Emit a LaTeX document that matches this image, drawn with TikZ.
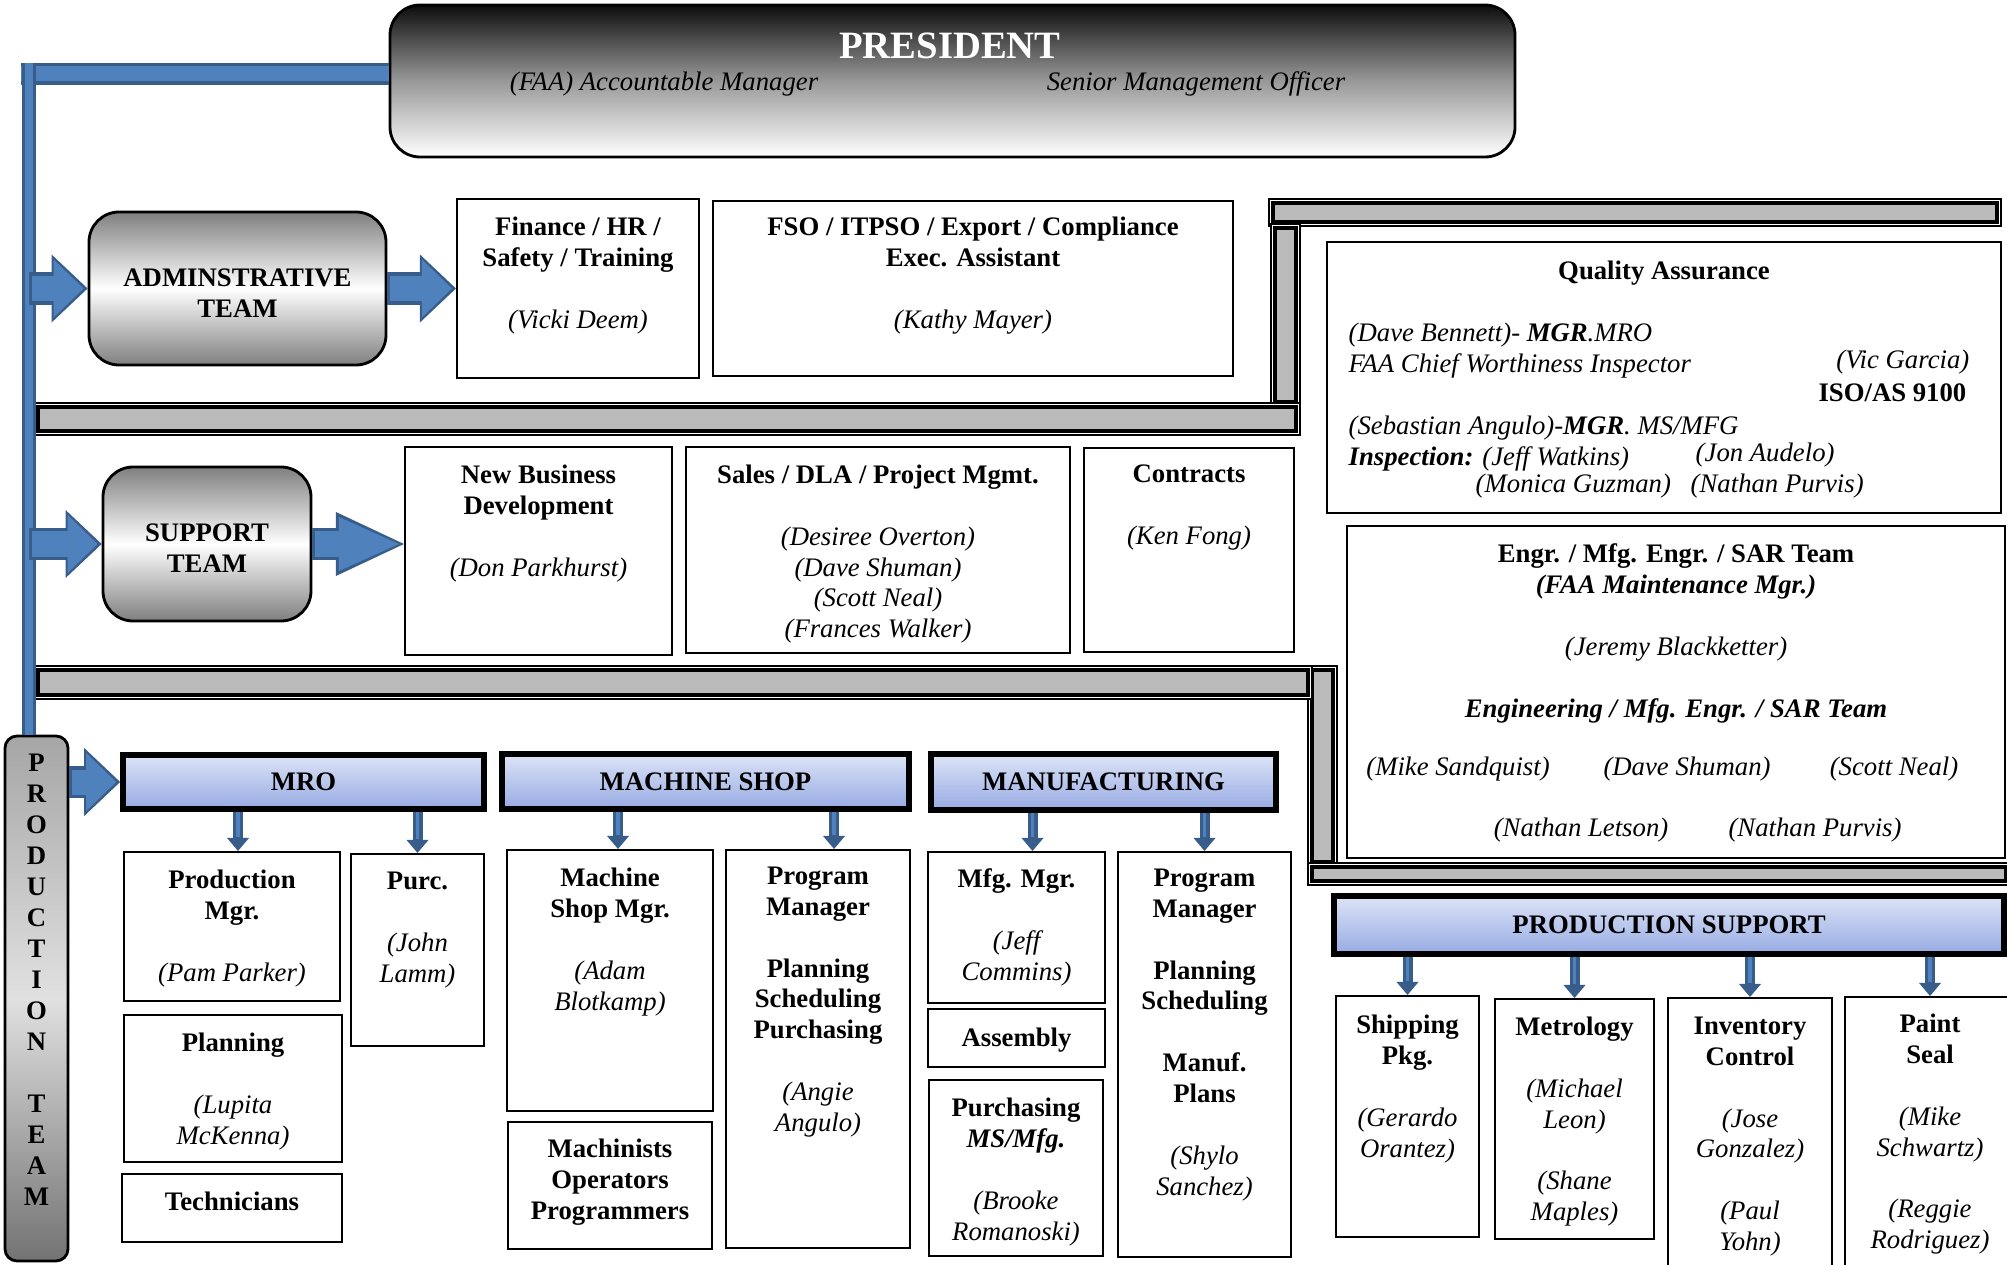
\documentclass[tikz,border=0pt]{standalone}
\usepackage{fontspec}
\setmainfont{Liberation Serif}
\usetikzlibrary{shapes,arrows.meta,positioning,fit}

\definecolor{arrowblue}{HTML}{4F81BD}
\definecolor{arrowedge}{HTML}{385D8A}
\definecolor{hdtop}{HTML}{DDE4F7}
\definecolor{hdbot}{HTML}{97ABE3}

\tikzstyle{box}    = [rectangle, draw, line width=0.6pt, inner sep=0pt]
\tikzstyle{hdr}    = [rectangle, draw, line width=1.6pt, inner sep=0pt, top color=hdtop, bottom color=hdbot]
\tikzstyle{team}   = [rectangle, draw, rounded corners=0.3cm, line width=0.8pt, inner sep=0pt, top color=gray, bottom color=gray, middle color=white]
\tikzstyle{presbox}= [rectangle, draw, rounded corners=0.3cm, line width=0.8pt, inner sep=0pt, top color=black!95, bottom color=white, middle color=black!40]
\tikzstyle{txt}    = [align=center, inner sep=0pt, font=\bfseries]
\tikzstyle{person} = [inner sep=0pt, font=\itshape]
\tikzstyle{barout} = [draw, line width=0.5pt, fill=white]
\tikzstyle{barin}  = [draw, line width=1.2pt, fill=black!27]
\tikzstyle{hbar}   = [draw=arrowedge, line width=0.22cm, postaction={draw=arrowblue, line width=0.15cm}]
\tikzstyle{vbar}   = [draw=arrowedge, line width=0.14cm, postaction={draw=arrowblue, line width=0.08cm}]
\tikzstyle{fatarrow}  = [draw=arrowedge, line width=0.32cm, -{Triangle[width=0.68cm,length=0.36cm,line width=0pt]},
                         postaction={draw=arrowblue, line width=0.25cm, -{Triangle[width=0.58cm,length=0.3cm,line width=0pt]}, shorten >=0.04cm, shorten <=0.03cm}]
\tikzstyle{longarrow} = [draw=arrowedge, line width=0.32cm, -{Triangle[width=0.64cm,length=0.68cm,line width=0pt]},
                         postaction={draw=arrowblue, line width=0.25cm, -{Triangle[width=0.54cm,length=0.6cm,line width=0pt]}, shorten >=0.05cm, shorten <=0.03cm}]
\tikzstyle{downarrow} = [draw=arrowedge, line width=0.1cm, -{Triangle[width=0.22cm,length=0.13cm,line width=0pt]},
                         postaction={draw=arrowblue, line width=0.035cm, -, shorten >=0.14cm}]

\newcommand{\emptyln}{\\[8.8pt]}
\newcommand{\nm}[1]{{\normalfont\itshape #1}}
\newcommand{\sepbar}[4]{%
  \draw[barout] (#1,#2) rectangle (#3,#4);
  \draw[barin] (#1+4,#2+4) rectangle (#3-4,#4-4);}

\begin{document}
\begin{tikzpicture}[x=0.01cm, y=-0.01cm]
\fontsize{7.6}{8.8}\selectfont
\useasboundingbox (0,0) rectangle (2007,1264);

% separators
\sepbar{1269}{199}{2001}{226}
\sepbar{1271}{224}{1300}{406}
\sepbar{34}{403}{1300}{435}
\sepbar{1308}{666}{1337}{866}
\sepbar{34}{666}{1312}{699}
\sepbar{1308}{863}{2010}{885}

% president
\node[presbox, fit={(390,5) (1515,157)}] (pres) {};
\node[txt, text=white, font=\bfseries\fontsize{11}{13}\selectfont] (pres-t) at (950,46) {PRESIDENT};
\node[person] (pres-faa) at (664,84) {(FAA) Accountable Manager};
\node[person] (pres-smo) at (1196,84) {Senior Management Officer};

% production team
\node[team, rounded corners=0.12cm, top color=black!35, bottom color=black!55, middle color=black!12, fit={(5,736) (68,1261)}] (prodteam) {};
\node[txt, below=0.19cm of prodteam.north] (prodteam-t) {P\\R\\O\\D\\U\\C\\T\\I\\O\\N\emptyln T\\E\\A\\M};

\coordinate (elbow) at (29,74);
\draw[hbar] ([xshift=-0.08cm]elbow) -- (elbow -| pres.west);
\draw[vbar] ([yshift=0.11cm]elbow) -- (elbow |- prodteam.north);

% administrative row
\node[team, fit={(89,212) (386,365)}] (adm) {};
\node[txt, below=0.05cm of adm.center, anchor=center] (adm-t) {ADMINSTRATIVE\\TEAM};
\node[box, fit={(457,199) (699,378)}] (fin) {};
\node[txt, below=0.18cm of fin.north] (fin-t) {Finance / HR /\\Safety / Training\emptyln\nm{(Vicki Deem)}};
\node[box, fit={(713,201) (1233,376)}] (fso) {};
\node[txt, below=0.16cm of fso.north] (fso-t) {FSO / ITPSO / Export / Compliance\\Exec. Assistant\emptyln\nm{(Kathy Mayer)}};

% support row
\node[team, fit={(103,467) (311,621)}] (sup) {};
\node[txt, below=0.04cm of sup.center, anchor=center] (sup-t) {SUPPORT\\TEAM};
\node[box, fit={(405,447) (672,655)}] (nbd) {};
\node[txt, below=0.18cm of nbd.north] (nbd-t) {New Business\\Development\emptyln\nm{(Don Parkhurst)}};
\node[box, fit={(686,447) (1070,653)}] (sales) {};
\node[txt, below=0.18cm of sales.north] (sales-t) {Sales / DLA / Project Mgmt.\emptyln\nm{(Desiree Overton)}\\\nm{(Dave Shuman)}\\\nm{(Scott Neal)}\\\nm{(Frances Walker)}};
\node[box, fit={(1084,448) (1294,652)}] (contr) {};
\node[txt, below=0.17cm of contr.north] (contr-t) {Contracts\emptyln\nm{(Ken Fong)}};

% quality assurance
\node[box, fit={(1327,242) (2001,513)}] (qa) {};
\node[txt, below=0.19cm of qa.north] (qa-t) {Quality Assurance};
\node[person, align=left, anchor=north west] (qa-mgr) at (1348,322) {(Dave Bennett)- \textbf{MGR}.MRO\\FAA Chief Worthiness Inspector\emptyln(Sebastian Angulo)-\textbf{MGR}. MS/MFG\\\textbf{Inspection:} (Jeff Watkins)};
\node[person, anchor=east] (qa-vic) at (1970,362) {(Vic Garcia)};
\node[txt, anchor=east] (qa-iso) at (1967,393) {ISO/AS 9100};
\node[person, anchor=west] (qa-jon) at (1695,455) {(Jon Audelo)};
\node[person, anchor=west] (qa-mon) at (1475,486) {(Monica Guzman)};
\node[person, anchor=west] (qa-nat) at (1690,486) {(Nathan Purvis)};

% engineering
\node[box, fit={(1347,526) (2005,858)}] (engr) {};
\node[txt, below=0.18cm of engr.north] (engr-t) {Engr. / Mfg. Engr. / SAR Team\\\textit{(FAA Maintenance Mgr.)}\emptyln\nm{(Jeremy Blackketter)}\emptyln\textit{Engineering / Mfg. Engr. / SAR Team}};
\node[person] (engr-n1) at (1458,769) {(Mike Sandquist)};
\node[person] (engr-n2) at (1687,769) {(Dave Shuman)};
\node[person] (engr-n3) at (1894,769) {(Scott Neal)};
\node[person] (engr-n4) at (1581,830) {(Nathan Letson)};
\node[person] (engr-n5) at (1815,830) {(Nathan Purvis)};

% production headers
\node[hdr, fit={(123,755) (484,809)}] (mro) {};
\node[txt] (mro-t) at (mro.center) {MRO};
\node[hdr, fit={(502,754) (909,809)}] (mshop) {};
\node[txt] (mshop-t) at (mshop.center) {MACHINE SHOP};
\node[hdr, fit={(931,754) (1276,810)}] (mfg) {};
\node[txt] (mfg-t) at (mfg.center) {MANUFACTURING};
\node[hdr, fit={(1334,896) (2004,954)}] (psup) {};
\node[txt] (psup-t) at (psup.center) {PRODUCTION SUPPORT};

% MRO
\node[box, fit={(124,852) (340,1001)}] (pmgr) {};
\node[txt, below=0.18cm of pmgr.north] (pmgr-t) {Production\\Mgr.\emptyln\nm{(Pam Parker)}};
\node[box, fit={(351,854) (484,1046)}] (purc) {};
\node[txt, below=0.18cm of purc.north] (purc-t) {Purc.\emptyln\nm{(John}\\\nm{Lamm)}};
\node[box, fit={(124,1015) (342,1162)}] (plan) {};
\node[txt, below=0.18cm of plan.north] (plan-t) {Planning\emptyln\nm{(Lupita}\\\nm{McKenna)}};
\node[box, fit={(122,1174) (342,1242)}] (tech) {};
\node[txt, below=0.18cm of tech.north] (tech-t) {Technicians};

% machine shop
\node[box, fit={(507,850) (713,1111)}] (msm) {};
\node[txt, below=0.18cm of msm.north] (msm-t) {Machine\\Shop Mgr.\emptyln\nm{(Adam}\\\nm{Blotkamp)}};
\node[box, fit={(508,1122) (712,1249)}] (mach) {};
\node[txt, below=0.17cm of mach.north] (mach-t) {Machinists\\Operators\\Programmers};
\node[box, fit={(726,850) (910,1248)}] (pm1) {};
\node[txt, below=0.17cm of pm1.north] (pm1-t) {Program\\Manager\emptyln Planning\\Scheduling\\Purchasing\emptyln\nm{(Angie}\\\nm{Angulo)}};

% manufacturing
\node[box, fit={(928,852) (1105,1003)}] (mmgr) {};
\node[txt, below=0.17cm of mmgr.north] (mmgr-t) {Mfg. Mgr.\emptyln\nm{(Jeff}\\\nm{Commins)}};
\node[box, fit={(928,1009) (1105,1067)}] (asm) {};
\node[txt, below=0.19cm of asm.north] (asm-t) {Assembly};
\node[box, fit={(929,1080) (1103,1256)}] (pur) {};
\node[txt, below=0.18cm of pur.north] (pur-t) {Purchasing\\\textit{MS/Mfg.}\emptyln\nm{(Brooke}\\\nm{Romanoski)}};
\node[box, fit={(1118,852) (1291,1257)}] (pm2) {};
\node[txt, below=0.17cm of pm2.north] (pm2-t) {Program\\Manager\emptyln Planning\\Scheduling\emptyln Manuf.\\Plans\emptyln\nm{(Shylo}\\\nm{Sanchez)}};

% production support
\node[box, fit={(1336,996) (1479,1237)}] (ship) {};
\node[txt, below=0.19cm of ship.north] (ship-t) {Shipping\\Pkg.\emptyln\nm{(Gerardo}\\\nm{Orantez)}};
\node[box, fit={(1495,999) (1654,1239)}] (metr) {};
\node[txt, below=0.18cm of metr.north] (metr-t) {Metrology\emptyln\nm{(Michael}\\\nm{Leon)}\emptyln\nm{(Shane}\\\nm{Maples)}};
\node[box, fit={(1668,998) (1832,1280)}] (inv) {};
\node[txt, below=0.19cm of inv.north] (inv-t) {Inventory\\Control\emptyln\nm{(Jose}\\\nm{Gonzalez)}\emptyln\nm{(Paul}\\\nm{Yohn)}};
\node[box, fit={(1845,997) (2015,1280)}] (paint) {};
\node[txt, below=0.17cm of paint.north] (paint-t) {Paint\\Seal\emptyln\nm{(Mike}\\\nm{Schwartz)}\emptyln\nm{(Reggie}\\\nm{Rodriguez)}};

% block arrows
\draw[fatarrow]  (adm.west -| elbow) -- (adm.west);
\draw[fatarrow]  (adm.east) -- (adm.east -| fin.west);
\draw[fatarrow]  (sup.west -| elbow) -- (sup.west);
\draw[longarrow] (sup.east) -- (sup.east -| nbd.west);
\draw[fatarrow]  (mro.west -| prodteam.east) -- (mro.west);

% down arrows
\draw[downarrow] ([xshift=0.06cm]pmgr.north |- mro.south) -- ([xshift=0.06cm]pmgr.north);
\draw[downarrow] (purc.north |- mro.south) -- (purc.north);
\draw[downarrow] ([xshift=0.08cm]msm.north |- mshop.south) -- ([xshift=0.08cm]msm.north);
\draw[downarrow] ([xshift=0.16cm]pm1.north |- mshop.south) -- ([xshift=0.16cm]pm1.north);
\draw[downarrow] ([xshift=0.16cm]mmgr.north |- mfg.south) -- ([xshift=0.16cm]mmgr.north);
\draw[downarrow] (pm2.north |- mfg.south) -- (pm2.north);
\draw[downarrow] (ship.north |- psup.south) -- (ship.north);
\draw[downarrow] (metr.north |- psup.south) -- (metr.north);
\draw[downarrow] (inv.north |- psup.south) -- (inv.north);
\draw[downarrow] (paint.north |- psup.south) -- (paint.north);
\end{tikzpicture}
\end{document}
